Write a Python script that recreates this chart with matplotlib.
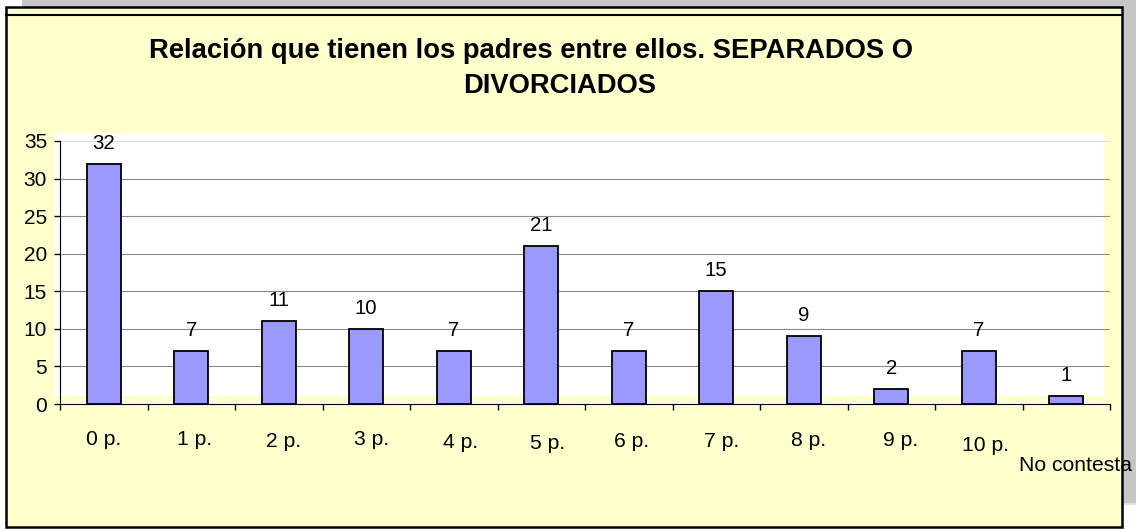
import matplotlib
matplotlib.use("Agg")
import matplotlib.pyplot as plt
from matplotlib.patches import Rectangle
from matplotlib.transforms import blended_transform_factory

categories = ["0 p.", "1 p.", "2 p.", "3 p.", "4 p.", "5 p.", "6 p.", "7 p.", "8 p.", "9 p.", "10 p.", "No contesta"]
values = [32, 7, 11, 10, 7, 21, 7, 15, 9, 2, 7, 1]
yticks = [0, 5, 10, 15, 20, 25, 30, 35]
title1 = "Relación que tienen los padres entre ellos. SEPARADOS O"
title2 = "DIVORCIADOS"

# label placement tweaks (pixels): x shift, baseline y
lab_dx = [0, 3, 5, 5, 7, 6, 3, 5, 5, 9, 7, 9]
lab_base = [445, 445, 447, 445, 448, 449, 447, 447, 446, 446, 451, 471]

W, H = 1136, 530
plt.rcParams['font.family'] = ['Liberation Sans', 'DejaVu Sans']
fig = plt.figure(figsize=(W / 100, H / 100), dpi=100)
fig.patch.set_facecolor('white')


def fx(x):
    return x / W


def fy(y):
    return 1 - y / H


def frect(x0, y0, x1, y1, **kw):
    fig.patches.append(Rectangle((fx(x0), fy(y1)), fx(x1) - fx(x0), fy(y0) - fy(y1),
                                 transform=fig.transFigure, **kw))


# shadow
frect(22, 0, 1136, 7, facecolor='#C6C6C6', edgecolor='none', zorder=0)
frect(1122, 0, 1136, 503, facecolor='#C6C6C6', edgecolor='none', zorder=0)
frect(1122, 503, 1136, 505, facecolor='#E2E2E2', edgecolor='none', zorder=0)
# chart frame
frect(6, 7, 1122, 527, facecolor='#FFFFCC', edgecolor='black', linewidth=1.8, zorder=1)
fig.lines.append(plt.Line2D([fx(6), fx(1122)], [fy(15), fy(15)], transform=fig.transFigure,
                            color='black', linewidth=1.5, zorder=2))
# plot area
frect(55, 133, 1104, 396, facecolor='white', edgecolor='none', zorder=2)

ax = fig.add_axes([fx(60), fy(404), fx(1110) - fx(60), fy(141) - fy(404)])
ax.set_facecolor('none')
ax.set_zorder(3)
ax.set_xlim(0, len(categories))
ax.set_ylim(0, 35)

for t in yticks[1:]:
    ax.axhline(t, color='#DDDDDD' if t == 35 else '#8A8A8A', linewidth=0.8, zorder=1)

xs = [i + 0.5 for i in range(len(categories))]
ax.bar(xs, values, width=0.39, color='#9999FF', edgecolor='black', linewidth=1.3, zorder=3)

for x, v in zip(xs, values):
    ax.annotate(str(v), (x, v), xytext=(0, 15), textcoords='offset pixels',
                ha='center', va='baseline', fontsize=14.7, color='black', annotation_clip=False)

ax.spines['top'].set_visible(False)
ax.spines['right'].set_visible(False)
ax.spines['left'].set_color('black')
ax.spines['bottom'].set_color('black')
ax.set_yticks(yticks)
ax.set_yticklabels([str(t) for t in yticks], fontsize=15)
ax.set_xticks(range(len(categories) + 1))
ax.set_xticklabels([])
ax.tick_params(axis='both', direction='out', length=4.3, width=1, color='black', pad=5)

tr = blended_transform_factory(ax.transData, fig.transFigure)
px = (ax.transData.transform((1, 0))[0] - ax.transData.transform((0, 0))[0])
for i, (c, dx, yy) in enumerate(zip(categories, lab_dx, lab_base)):
    ax.text(xs[i] + dx / px, fy(yy), c, transform=tr, ha='center', va='baseline',
            fontsize=15.2, clip_on=False, zorder=5)

fig.text(fx(531), fy(58), title1, ha='center', va='baseline', fontsize=19.7, fontweight='bold', zorder=5)
fig.text(fx(560), fy(93), title2, ha='center', va='baseline', fontsize=19.7, fontweight='bold', zorder=5)

fig.savefig('out.png', dpi=100)
